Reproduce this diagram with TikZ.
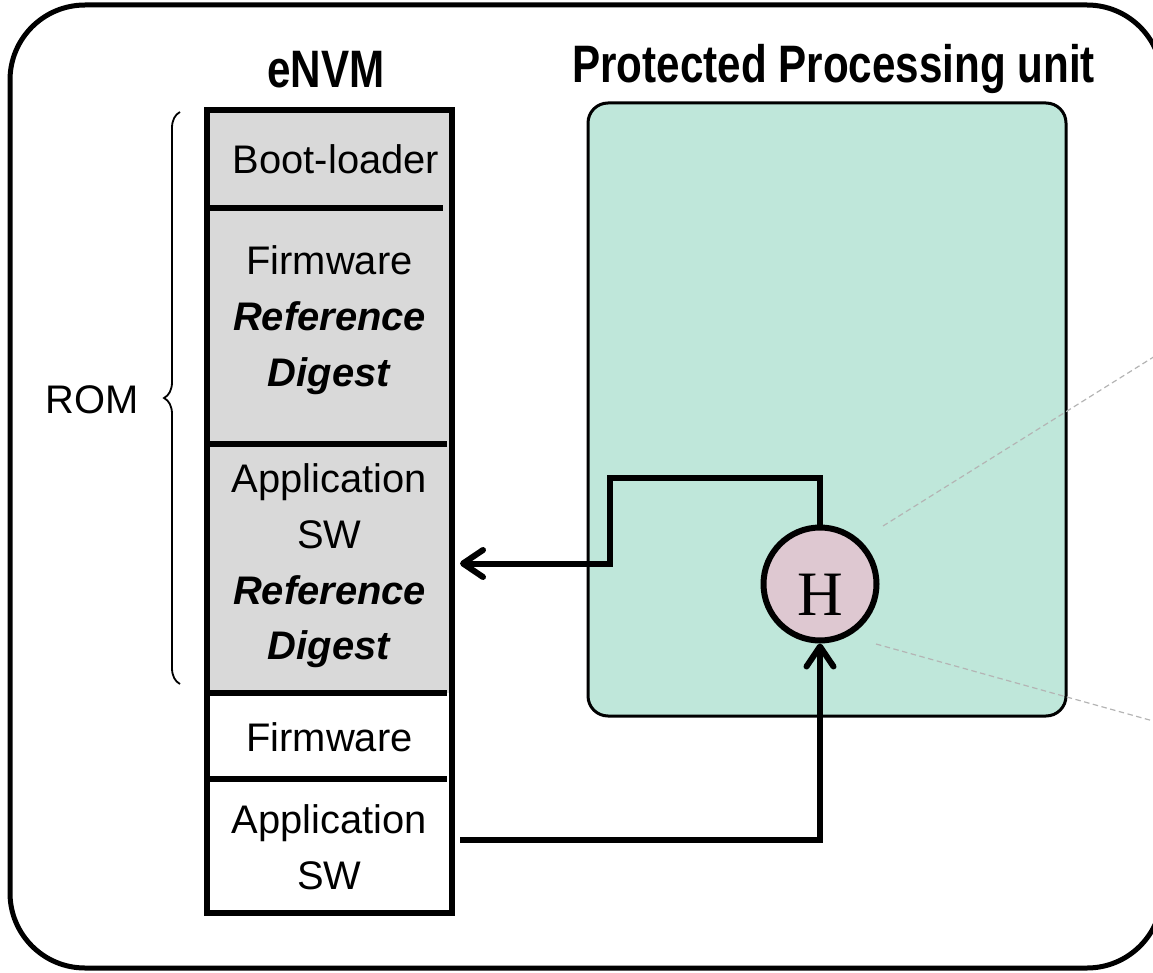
\documentclass[tikz,border=0pt]{standalone}
\usepackage{fontspec}
\setmainfont{Liberation Sans}
\newfontfamily\titlefont[FakeStretch=0.8]{Liberation Sans Bold}
\newfontfamily\hashfont{Liberation Serif}
\usetikzlibrary{arrows.meta,decorations.pathreplacing,calc}

% one drawing unit
\newlength\pxu
\setlength\pxu{0.02cm}
\newcommand\bodysize{\fontsize{22.7pt}{31.7pt}\selectfont}

\definecolor{memgray}{RGB}{217,217,217}
\definecolor{ppugreen}{RGB}{191,231,218}
\definecolor{hashpink}{RGB}{222,200,209}
\definecolor{guidegray}{RGB}{180,180,180}

\tikzset{
  memseg/.style={minimum width=245\pxu, inner sep=0pt, outer sep=0pt},
  memtext/.style={inner sep=0pt, align=center, font=\bodysize},
  divider/.style={line width=6\pxu},
  wire/.style={line width=6\pxu,
               -{Straight Barb[length=0.4cm,width=0.54cm,line cap=round,line join=round]}},
  guide/.style={draw=guidegray, line width=1.2\pxu, dash pattern=on 0.11cm off 0.07cm},
  heading/.style={anchor=base west, inner sep=0pt,
                  font=\titlefont\fontsize{30pt}{36pt}\selectfont},
}

\begin{document}
\begin{tikzpicture}[x=0.02cm, y=-0.02cm]
\useasboundingbox (0,0) rectangle (1153,973);

% enclosing frame
\draw[line width=5\pxu, rounded corners=1.5cm] (10,5) rectangle (1162,968);

% headings
\node[heading] (envmlabel) at (267,88) {eNVM};
\node[heading] (ppulabel) at (572,83) {Protected Processing unit};

% memory map segments
\node[memseg, fill=memgray, minimum height=98\pxu]  (boot)   at (329.5,159)   {};
\node[memseg, fill=memgray, minimum height=236\pxu] (fwref)  at (329.5,326)   {};
\node[memseg, fill=memgray, minimum height=249\pxu] (appref) at (329.5,568.5) {};
\node[memseg, minimum height=86\pxu]  (fw)  at (329.5,736) {};
\node[memseg, minimum height=134\pxu] (app) at (329.5,846) {};

\node[memtext] (boottext)   at (336,159)   {Boot-loader};
\node[memtext] (fwreftext)  at (329.5,320) {Firmware\\\textbf{\textit{Reference}}\\\textbf{\textit{Digest}}};
\node[memtext] (appreftext) at (329.5,566) {Application\\SW\\\textbf{\textit{Reference}}\\\textbf{\textit{Digest}}};
\node[memtext] (fwtext)     at (329.5,737) {Firmware};
\node[memtext] (apptext)    at (329.5,847) {Application\\SW};

\draw[line width=6\pxu] (boot.north west) rectangle (app.south east);
\draw[divider] (boot.south west) -- ([xshift=-9\pxu]boot.south east);
\draw[divider] (fwref.south west) -- ([xshift=-5\pxu]fwref.south east);
\draw[divider] (appref.south west) -- ([xshift=-5\pxu]appref.south east);
\draw[divider] (fw.south west) -- ([xshift=-5\pxu]fw.south east);

% ROM range
\coordinate (romtop) at (180,112);
\coordinate (rombot) at (180,684);
\draw[decorate, decoration={brace, amplitude=0.32cm}, line width=1.8\pxu] (rombot) -- (romtop);
\node[anchor=base, inner sep=0pt, font=\bodysize] (rom) at (92,413) {ROM};

% processing unit
\node[draw, line width=3\pxu, fill=ppugreen, rounded corners=0.4cm,
      minimum width=478\pxu, minimum height=613\pxu] (ppu) at (827,409.5) {};

% guide lines leading off to the right
\coordinate (g1a) at (883,526);
\coordinate (g1b) at (1200,328);
\coordinate (g2a) at (876,644);
\coordinate (g2b) at (1200,734);
\draw[guide] (g1a) -- (g1b);
\draw[guide] (g2a) -- (g2b);

% hash unit
\node[circle, draw, line width=6\pxu, fill=hashpink, minimum size=113\pxu, inner sep=0pt,
      font=\hashfont\fontsize{36pt}{36pt}\selectfont, text height=35.5pt, text depth=0pt]
      (hash) at (820,584) {H};

% data paths
\coordinate (k1) at (610,478);
\draw[wire] (hash.north) |- (k1) |- ($(appref.east)+(8,-5)$);
\draw[wire] ($(app.east)+(8,-6)$) -| (hash.south);
\end{tikzpicture}
\end{document}
